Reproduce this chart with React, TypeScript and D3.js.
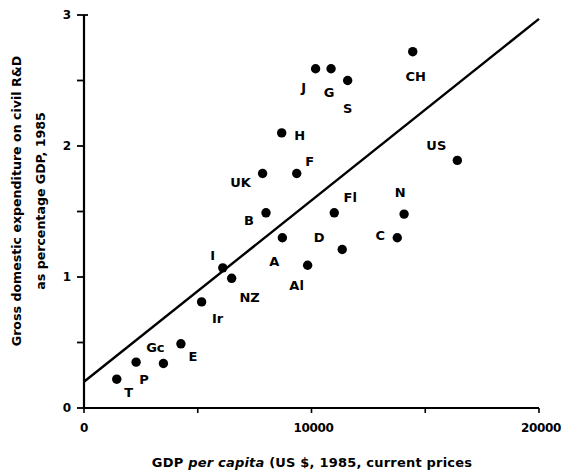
import * as d3 from "d3"
import { useEffect, useRef } from "react"

// Countries, GDP per capita (US $ 1985) and civil R&D as % of GDP
const countries = ["T", "P", "Gc", "E", "Ir", "I", "NZ", "A", "Al", "D", "B", "UK", "F", "H", "J", "G", "S", "CH", "US", "Fl", "N", "C"]
const gdp = [1440, 2290, 3490, 4260, 5170, 6100, 6490, 8720, 9830, 11350, 8000, 7850, 9350, 8690, 10180, 10860, 11590, 14450, 16410, 11000, 14070, 13770]
const rnd = [0.22, 0.35, 0.34, 0.49, 0.81, 1.07, 0.99, 1.3, 1.09, 1.21, 1.49, 1.79, 1.79, 2.1, 2.59, 2.59, 2.5, 2.72, 1.89, 1.49, 1.48, 1.3]

// label placement relative to the dot (px)
const labelDx = [12, 8, -8, 12, 16, -10, 18, -8, -11, -23, -17, -22, 13, 18, -12, -2, 0, 3, -21, 16, -4, -17]
const labelDy = [13, 17, -16, 13, 16, -13, 19, 24, 20, -12, 8, 9, -12, 2, 19, 24, 28, 25, -15, -15, -22, -2]

// fitted regression line
const fitX = [0, 20000]
const fitY = [0.2, 2.97]

const xTicks = [0, 10000, 20000]
const xMinorTicks = [5000, 15000]
const yTicks = [0, 1, 2, 3]
const yMinorTicks = [0.5, 1.5, 2.5]

const W = 561
const H = 470
const FONT = "'DejaVu Sans', 'Liberation Sans', sans-serif"

const App = () => {
  const svgRef = useRef<SVGSVGElement | null>(null)

  useEffect(() => {
    if (!svgRef.current) return
    const svg = d3.select(svgRef.current)
    svg.selectAll("*").remove()

    const x = d3.scaleLinear().domain([0, 20000]).range([84, 539])
    const y = d3.scaleLinear().domain([0, 3]).range([408, 15])

    const g = svg.append("g").style("font-family", FONT).style("font-weight", "bold")

    // axes lines
    g.append("line")
      .attr("x1", x(0)).attr("x2", x(20000))
      .attr("y1", y(0)).attr("y2", y(0))
      .attr("stroke", "#000").attr("stroke-width", 2.2)
    g.append("line")
      .attr("x1", x(0)).attr("x2", x(0))
      .attr("y1", y(0)).attr("y2", y(3))
      .attr("stroke", "#000").attr("stroke-width", 2.2)

    // y ticks (outward, left)
    g.selectAll(".ytick")
      .data([...yTicks, ...yMinorTicks])
      .enter()
      .append("line")
      .attr("x1", x(0) - 7).attr("x2", x(0))
      .attr("y1", d => y(d)).attr("y2", d => y(d))
      .attr("stroke", "#000").attr("stroke-width", 1.8)
    // small stub at the top of the y axis
    g.append("line")
      .attr("x1", x(0)).attr("x2", x(0) + 4)
      .attr("y1", y(3)).attr("y2", y(3))
      .attr("stroke", "#000").attr("stroke-width", 1.8)

    g.selectAll(".ylab")
      .data(yTicks)
      .enter()
      .append("text")
      .attr("x", 67)
      .attr("y", d => y(d))
      .attr("dy", "0.36em")
      .attr("text-anchor", "middle")
      .style("font-size", "12px")
      .text(d => d3.format("d")(d))

    // x ticks (outward, down)
    g.selectAll(".xtick")
      .data([...xTicks, ...xMinorTicks])
      .enter()
      .append("line")
      .attr("x1", d => x(d)).attr("x2", d => x(d))
      .attr("y1", y(0)).attr("y2", y(0) + 5)
      .attr("stroke", "#000").attr("stroke-width", 1.6)

    g.selectAll(".xlab")
      .data(xTicks)
      .enter()
      .append("text")
      .attr("x", d => x(d) + (d === 0 ? 0 : 2))
      .attr("y", 428)
      .attr("dy", "0.36em")
      .attr("text-anchor", "middle")
      .style("font-size", "12px")
      .style("letter-spacing", "-0.3px")
      .text(d => String(d))

    // regression line
    g.append("line")
      .attr("x1", x(fitX[0])).attr("y1", y(fitY[0]))
      .attr("x2", x(fitX[1])).attr("y2", y(fitY[1]))
      .attr("stroke", "#000").attr("stroke-width", 2.4)

    // points
    const pts = countries.map((c, i) => ({ c, gx: gdp[i], ry: rnd[i], dx: labelDx[i], dy: labelDy[i] }))

    g.selectAll(".dot")
      .data(pts)
      .enter()
      .append("circle")
      .attr("cx", d => x(d.gx))
      .attr("cy", d => y(d.ry))
      .attr("r", 4.7)
      .attr("fill", "#000")

    g.selectAll(".lbl")
      .data(pts)
      .enter()
      .append("text")
      .attr("x", d => x(d.gx) + d.dx)
      .attr("y", d => y(d.ry) + d.dy)
      .attr("dy", "0.36em")
      .attr("text-anchor", "middle")
      .style("font-size", "13px")
      .text(d => d.c)

    // axis titles
    const xt = g.append("text")
      .attr("x", 312)
      .attr("y", 462)
      .attr("dy", "0.36em")
      .attr("text-anchor", "middle")
      .style("font-size", "13px")
      .style("letter-spacing", "0.2px")
    xt.append("tspan").text("GDP ")
    xt.append("tspan").style("font-style", "italic").text("per capita")
    xt.append("tspan").text(" (US $, 1985, current prices")

    const yt = g.append("text")
      .attr("transform", "translate(0,201) rotate(-90)")
      .attr("text-anchor", "middle")
      .style("font-size", "12.6px")
    yt.append("tspan").attr("x", 0).attr("y", 21).text("Gross domestic expenditure on civil R&D")
    yt.append("tspan").attr("x", 0).attr("y", 45).text("as percentage GDP, 1985")
  }, [])

  return (
    <svg
      ref={svgRef}
      width={W}
      height={H}
      style={{ position: "fixed", left: 0, top: 0, background: "#fff" }}
    />
  )
}

export default App
